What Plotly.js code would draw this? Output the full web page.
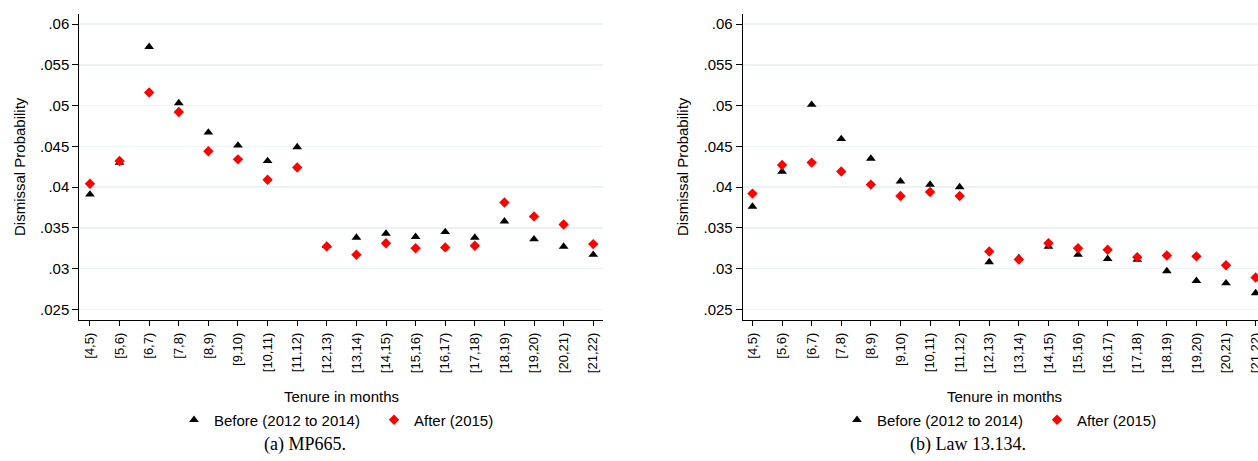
<!DOCTYPE html>
<html>
<head>
<meta charset="utf-8">
<script src="https://cdn.plot.ly/plotly-3.0.1.min.js"></script>
<style>html,body{margin:0;padding:0;background:#fff;width:1258px;height:461px;overflow:hidden;}#chart{width:1258px;height:461px;overflow:hidden;}</style>
</head>
<body>
<div id="chart"></div>
<script>
var categories = ["[4,5)","[5,6)","[6,7)","[7,8)","[8,9)","[9,10)","[10,11)","[11,12)","[12,13)","[13,14)","[14,15)","[15,16)","[16,17)","[17,18)","[18,19)","[19,20)","[20,21)","[21,22)"];
var beforeMP = [0.0391,0.0430,0.0572,0.0503,0.0467,0.0451,0.0432,0.0449,0.0328,0.0338,0.0343,0.0339,0.0345,0.0338,0.0358,0.0336,0.0327,0.0317];
var afterMP  = [0.0404,0.0432,0.0516,0.0492,0.0444,0.0434,0.0409,0.0424,0.0327,0.0317,0.0331,0.0325,0.0326,0.0328,0.0381,0.0364,0.0354,0.0330];
var beforeLaw = [0.0376,0.0419,0.0501,0.0459,0.0435,0.0407,0.0403,0.0400,0.0308,0.0313,0.0327,0.0317,0.0312,0.0311,0.0297,0.0285,0.0282,0.0270];
var afterLaw  = [0.0392,0.0427,0.0430,0.0419,0.0403,0.0389,0.0394,0.0389,0.0321,0.0311,0.0331,0.0325,0.0323,0.0314,0.0316,0.0315,0.0304,0.0289];
var yTickVals = [0.025,0.03,0.035,0.04,0.045,0.05,0.055,0.06];
var yTickText = [".025",".03",".035",".04",".045",".05",".055",".06"];
var seriesNames = ["Before (2012 to 2014)","After (2015)"];
var panelTitles = ["(a) MP665.","(b) Law 13.134."];

var FONT = "Liberation Sans, Arial, sans-serif";
var triMarker = {symbol:"triangle-up", size:8.5, color:"#000000", line:{width:0}};
var diaMarker = {symbol:"diamond", size:8, color:"#FF0000", line:{width:0}};

var traces = [
  {type:"scatter", mode:"markers", x:categories, y:beforeMP, name:seriesNames[0], marker:triMarker, xaxis:"x", yaxis:"y", legend:"legend"},
  {type:"scatter", mode:"markers", x:categories, y:afterMP, name:seriesNames[1], marker:diaMarker, xaxis:"x", yaxis:"y", legend:"legend"},
  {type:"scatter", mode:"markers", x:categories, y:beforeLaw, name:seriesNames[0], marker:triMarker, xaxis:"x2", yaxis:"y2", legend:"legend2"},
  {type:"scatter", mode:"markers", x:categories, y:afterLaw, name:seriesNames[1], marker:diaMarker, xaxis:"x2", yaxis:"y2", legend:"legend2"}
];

function xAxis(domain, range, anchor){
  return {domain:domain, type:"category", range:range, anchor:anchor,
    showline:true, linecolor:"#000", linewidth:1, ticks:"outside", ticklen:5, tickcolor:"#000",
    ticklabelstandoff:2,
    tickangle:-90, tickfont:{family:FONT, size:13, color:"#000"}, showgrid:false, zeroline:false, fixedrange:true};
}
function yAxis(anchor){
  return {domain:[0.3069,0.9696], range:[0.02375,0.06123], anchor:anchor,
    tickvals:yTickVals, ticktext:yTickText,
    showline:true, linecolor:"#000", linewidth:1, ticks:"outside", ticklen:6, tickcolor:"#000",
    tickfont:{family:FONT, size:15, color:"#000"}, showgrid:true, gridcolor:"#EAF2F3", gridwidth:1.5,
    zeroline:false, fixedrange:true};
}

var legendBase = {orientation:"h", xanchor:"left", yanchor:"middle", y:1-420/461,
  font:{family:FONT, size:15, color:"#000"}, bgcolor:"rgba(0,0,0,0)", borderwidth:0,
  entrywidth:155, entrywidthmode:"pixels", itemsizing:"trace"};

var layout = {
  width:1258, height:461, margin:{l:0,r:0,t:0,b:0}, paper_bgcolor:"#fff", plot_bgcolor:"#fff",
  showlegend:true,
  xaxis: xAxis([79.3/1258, 603/1258], [-0.36,17.33], "y"),
  yaxis: yAxis("x"),
  xaxis2: xAxis([742.7/1258, 1], [-0.33,17.08], "y2"),
  yaxis2: yAxis("x2"),
  legend: Object.assign({}, legendBase, {x:174/1258}),
  legend2: Object.assign({}, legendBase, {x:837/1258}),
  annotations:[
    {text:"Dismissal Probability", xref:"paper", yref:"paper", x:19/1258, y:1-167/461, textangle:-90, showarrow:false, font:{family:FONT,size:15,color:"#000"}, xanchor:"center", yanchor:"middle"},
    {text:"Dismissal Probability", xref:"paper", yref:"paper", x:682/1258, y:1-167/461, textangle:-90, showarrow:false, font:{family:FONT,size:15,color:"#000"}, xanchor:"center", yanchor:"middle"},
    {text:"Tenure in months", xref:"paper", yref:"paper", x:341/1258, y:1-396/461, showarrow:false, font:{family:FONT,size:15,color:"#000"}, xanchor:"center", yanchor:"middle"},
    {text:"Tenure in months", xref:"paper", yref:"paper", x:1004/1258, y:1-396/461, showarrow:false, font:{family:FONT,size:15,color:"#000"}, xanchor:"center", yanchor:"middle"},
    {text:panelTitles[0], xref:"paper", yref:"paper", x:305/1258, y:1-444/461, showarrow:false, font:{family:"Liberation Serif, serif",size:18,color:"#000"}, xanchor:"center", yanchor:"middle"},
    {text:panelTitles[1], xref:"paper", yref:"paper", x:968/1258, y:1-444/461, showarrow:false, font:{family:"Liberation Serif, serif",size:18,color:"#000"}, xanchor:"center", yanchor:"middle"}
  ]
};

Plotly.newPlot("chart", traces, layout, {displayModeBar:false, staticPlot:true});
</script>
</body>
</html>
